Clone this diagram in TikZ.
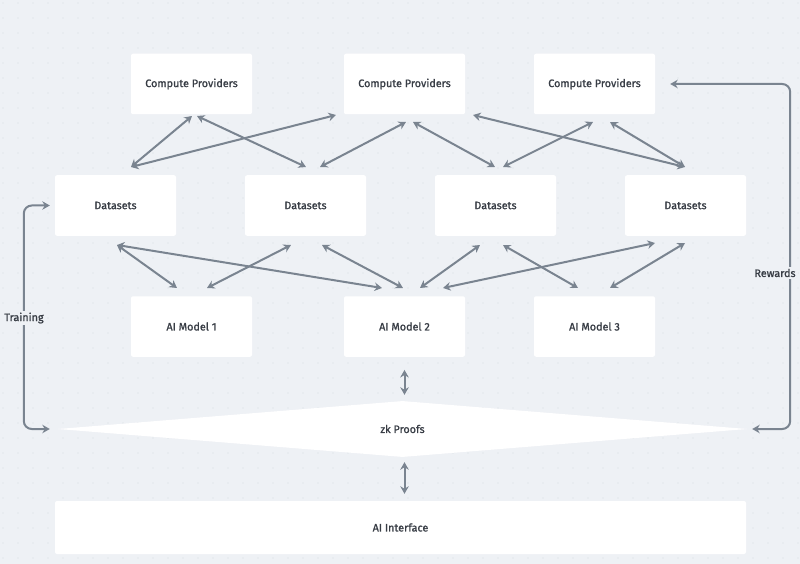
\documentclass[tikz,border=0pt]{standalone}
\usepackage{fontspec}
\setmainfont{Fira Sans}[FakeBold=1.2]
\newfontfamily\boxfont{Fira Sans}[FakeBold=1.2]
\usetikzlibrary{arrows.meta,calc,shapes.geometric}
\definecolor{bgc}{HTML}{EEF1F5}
\definecolor{dotc}{HTML}{D6DCE3}
\definecolor{arr}{HTML}{7A8490}
\definecolor{txt}{HTML}{383D45}
\tikzset{
  box/.style={fill=white,rounded corners=2pt,minimum width=121pt,minimum height=60.5pt,inner sep=0pt,text=txt,font=\boxfont\fontsize{10.8}{12}\selectfont},
  link/.style={draw=arr,line width=2pt,{Stealth[length=7.5pt,width=8.5pt]}-{Stealth[length=7.5pt,width=8.5pt]}},
  lbl/.style={fill=bgc,text=txt,font=\boxfont\fontsize{10.8}{12}\selectfont,inner sep=2pt}
}
\begin{document}
\begin{tikzpicture}[x=1pt,y=-1pt]
\fill[bgc] (0,0) rectangle (800,564);
\useasboundingbox (0,0) rectangle (800,564);
\foreach \i in {0,...,53}{\foreach \j in {0,...,37}{\fill[dotc] (3+15*\i,3+15*\j) circle (0.6pt);}}
% nodes
\node[box] (cp1) at (191.5,84) {Compute Providers};
\node[box] (cp2) at (404.5,84) {Compute Providers};
\node[box] (cp3) at (594.5,84) {Compute Providers};
\node[box] (d1) at (115.5,205.5) {Datasets};
\node[box] (d2) at (305.5,205.5) {Datasets};
\node[box] (d3) at (495.5,205.5) {Datasets};
\node[box] (d4) at (685.5,205.5) {Datasets};
\node[box] (m1) at (191.5,326.5) {AI Model 1};
\node[box] (m2) at (404.5,326.5) {AI Model 2};
\node[box] (m3) at (594.5,326.5) {AI Model 3};
\node[diamond,fill=white,aspect=12.3,minimum width=689pt,minimum height=56pt,inner sep=0pt,text=txt,font=\boxfont\fontsize{10.8}{12}\selectfont] (zk) at (402.5,429) {zk Proofs};
\node[box,minimum width=691pt,minimum height=53pt] (ai) at (400.5,527.5) {AI Interface};
% top links
\draw[link] ([shift={(15.5,-38.5)}]d1.center) -- ([shift={(0.5,32)}]cp1.center);
\draw[link] ([shift={(15.5,-38.5)}]d1.center) -- ([shift={(-68.5,31)}]cp2.center);
\draw[link] ([shift={(5.5,32)}]cp1.center) -- ([shift={(0.5,-38.5)}]d2.center);
\draw[link] ([shift={(14.5,-38.5)}]d2.center) -- ([shift={(1.5,38)}]cp2.center);
\draw[link] ([shift={(8.5,38)}]cp2.center) -- ([shift={(-0.5,-38.5)}]d3.center);
\draw[link] ([shift={(68.5,31)}]cp2.center) -- ([shift={(-0.5,-38.5)}]d4.center);
\draw[link] ([shift={(7.5,-38.5)}]d3.center) -- ([shift={(-1.5,38)}]cp3.center);
\draw[link] ([shift={(15.5,38)}]cp3.center) -- ([shift={(-0.5,-38.5)}]d4.center);
% middle links
\draw[link] ([shift={(1.5,39.5)}]d1.center) -- ([shift={(-14.5,-38.5)}]m1.center);
\draw[link] ([shift={(1.5,39.5)}]d1.center) -- ([shift={(-22.5,-38.5)}]m2.center);
\draw[link] ([shift={(-14.5,39.5)}]d2.center) -- ([shift={(15.5,-38.5)}]m1.center);
\draw[link] ([shift={(16.5,39.5)}]d2.center) -- ([shift={(-1.5,-38.5)}]m2.center);
\draw[link] ([shift={(-15.5,39.5)}]d3.center) -- ([shift={(15.5,-38.5)}]m2.center);
\draw[link] ([shift={(7.5,39.5)}]d3.center) -- ([shift={(-16.5,-38.5)}]m3.center);
\draw[link] ([shift={(-30.5,37.5)}]d4.center) -- ([shift={(38.5,-38.5)}]m2.center);
\draw[link] ([shift={(-0.5,37.5)}]d4.center) -- ([shift={(15.5,-38.5)}]m3.center);
% vertical links
\draw[link] ([yshift=13pt*-1]m2.south) -- ($(m2.south |- zk.north)+(0,-6)$);
\draw[link] ($(m2.south |- zk.south)+(0,5)$) -- ($(m2.south |- ai.north)+(0,-7)$);
% training
\draw[link,rounded corners=8pt] ($(d1.west)+(-5,0)$) -- ++(-26,0) |- ($(zk.west)+(-8,0)$);
\node[lbl] (tr) at (24,318) {Training};
% rewards
\draw[link,rounded corners=8pt] ($(cp3.east)+(15,0)$) -- ++(120,0) coordinate (rc) |- ($(zk.east)+(5,0)$);
\node[lbl] (rw) at (775,273) {Rewards};
\end{tikzpicture}
\end{document}
